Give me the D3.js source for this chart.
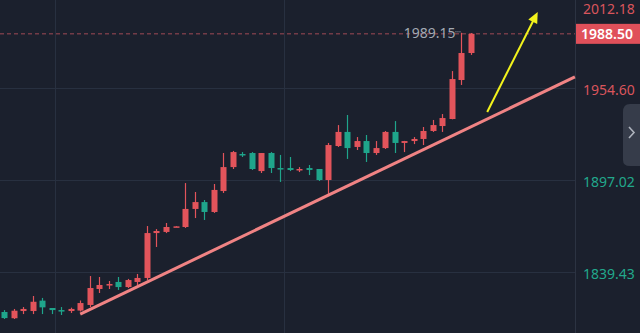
<!DOCTYPE html>
<html lang="en">
<head>
<meta charset="UTF-8">
<title>Gold candles</title>
<script src="https://d3js.org/d3.v7.min.js"></script>
<style>
  body { margin: 0; background: #1b202d; }
  svg { display: block; }
  text { font-family: "Noto Sans", sans-serif; }
</style>
</head>
<body>
<svg width="640" height="333"></svg>
<script>
// candle data (red = up, green = down)
const opens  = [1814.4,1810.5,1815.0,1815.0,1821.5,1816.9,1815.6,1815.0,1815.3,1818.8,
                1828.8,1831.3,1833.2,1830.0,1833.2,1835.7,1863.8,1864.5,1867.7,1867.6,
                1878.9,1883.2,1877.0,1890.1,1905.1,1913.3,1913.9,1902.6,1913.9,1904.5,
                1904.5,1903.3,1904.5,1903.9,1897.0,1918.3,1927.1,1917.7,1921.4,1913.9,
                1917.0,1927.1,1920.2,1921.4,1922.7,1927.7,1930.8,1935.2,1959.6,1976.5];
const closes = [1810.6,1815.2,1816.3,1820.8,1817.3,1815.6,1815.0,1816.3,1820.0,1829.4,
                1831.3,1831.9,1830.0,1834.4,1835.7,1863.8,1865.1,1867.6,1868.0,1878.9,
                1883.2,1877.0,1890.8,1905.1,1914.5,1912.7,1903.9,1913.9,1904.5,1903.9,
                1903.3,1903.9,1903.3,1897.0,1918.9,1927.1,1917.0,1921.4,1913.9,1917.0,
                1927.1,1920.2,1921.4,1922.7,1927.7,1931.4,1935.8,1960.2,1976.5,1988.5];
const highs  = [1815.6,1816.3,1817.5,1824.4,1823.2,1816.9,1817.5,1817.1,1821.6,1836.9,
                1836.3,1833.8,1836.3,1835.1,1838.2,1868.2,1866.3,1870.1,1868.1,1895.1,
                1889.5,1884.5,1894.5,1913.9,1915.2,1914.5,1914.5,1913.9,1914.5,1912.7,
                1911.4,1905.1,1906.4,1903.9,1920.2,1931.4,1937.7,1923.9,1925.2,1921.4,
                1927.7,1933.9,1921.5,1923.9,1930.2,1934.6,1938.3,1965.2,1989.15,1989.0];
const lows   = [1810.0,1810.0,1813.1,1813.1,1813.1,1813.1,1812.5,1813.8,1814.7,1817.5,
                1826.3,1828.8,1828.2,1829.4,1831.3,1834.4,1855.1,1863.8,1867.6,1867.0,
                1873.2,1872.0,1876.4,1888.9,1903.9,1911.4,1903.3,1901.4,1901.4,1895.8,
                1902.6,1902.0,1900.1,1896.4,1888.3,1917.7,1910.2,1915.8,1908.3,1912.7,
                1916.4,1913.9,1914.5,1919.5,1918.9,1927.1,1927.1,1935.0,1956.5,1975.3];

const priceTicks = [1839.43, 1897.02, 1954.60, 2012.18];
const lastPrice = 1988.50;
const highLabel = 1989.15;
const refPrice = 1925;          // labels above are red, below green

// drawn lines: [candle index, price]
const trendLine = [[8, 1813.1], [59.9, 1961.5]];
const arrowLine = [[50.7, 1939.6], [56.0, 2002.2]];

const W = 640, H = 333, plotRight = 575;
const RED = "#e2545b", GREEN = "#1fa58b";

const svg = d3.select("svg");

const x = d3.scaleLinear().domain([0, 49]).range([4, 471]);
const y = d3.scaleLinear().domain([1839.43, 1954.60]).range([272, 88]);

// grid
const grid = svg.append("g").attr("stroke", "#283040").attr("stroke-width", 1);
grid.selectAll("line.h").data(priceTicks).join("line")
    .attr("x1", 0).attr("x2", plotRight)
    .attr("y1", d => Math.round(y(d)) + 0.5).attr("y2", d => Math.round(y(d)) + 0.5);
grid.selectAll("line.v").data([6, 30]).join("line")
    .attr("x1", d => Math.round(x(d - 0.6)) + 0.5).attr("x2", d => Math.round(x(d - 0.6)) + 0.5)
    .attr("y1", 0).attr("y2", H);
svg.append("line").attr("x1", plotRight + 0.5).attr("x2", plotRight + 0.5)
    .attr("y1", 0).attr("y2", H).attr("stroke", "#2c3342");

// last price dashed line
svg.append("line")
    .attr("x1", 0).attr("x2", plotRight)
    .attr("y1", y(lastPrice)).attr("y2", y(lastPrice))
    .attr("stroke", "#a04a55").attr("stroke-dasharray", "4,3");

// candles
const idx = d3.range(opens.length);
const c = svg.append("g").selectAll("g").data(idx).join("g")
    .attr("fill", i => closes[i] >= opens[i] ? RED : GREEN)
    .attr("stroke", i => closes[i] >= opens[i] ? RED : GREEN);
c.append("line")
    .attr("x1", i => Math.round(x(i)) + 0.5).attr("x2", i => Math.round(x(i)) + 0.5)
    .attr("y1", i => y(highs[i])).attr("y2", i => y(lows[i]))
    .attr("stroke-width", 1.2);
c.append("rect")
    .attr("x", i => Math.round(x(i)) - 2.5)
    .attr("width", 6)
    .attr("y", i => y(Math.max(opens[i], closes[i])))
    .attr("height", i => Math.max(1.5, Math.abs(y(opens[i]) - y(closes[i]))))
    .attr("stroke", "none");

// high label
const hiIdx = highs.indexOf(highLabel);
svg.append("text")
    .attr("x", x(hiIdx) - 6).attr("y", y(highLabel) + 5)
    .attr("text-anchor", "end").attr("font-size", 14)
    .attr("fill", "#a3a9b3").text(highLabel.toFixed(2));
svg.append("line")
    .attr("x1", x(hiIdx) - 6).attr("x2", x(hiIdx))
    .attr("y1", y(highLabel) - 1).attr("y2", y(highLabel) - 1)
    .attr("stroke", "#a3a9b3").attr("stroke-dasharray", "1,1");

// trend line
svg.append("line")
    .attr("x1", x(trendLine[0][0])).attr("y1", y(trendLine[0][1]))
    .attr("x2", x(trendLine[1][0])).attr("y2", y(trendLine[1][1]))
    .attr("stroke", "#f08384").attr("stroke-width", 3);

// yellow arrow
const ax1 = x(arrowLine[0][0]), ay1 = y(arrowLine[0][1]);
const ax2 = x(arrowLine[1][0]), ay2 = y(arrowLine[1][1]);
const ang = Math.atan2(ay2 - ay1, ax2 - ax1);
const hl = 11, hw = 5;
svg.append("line")
    .attr("x1", ax1).attr("y1", ay1)
    .attr("x2", ax2 - Math.cos(ang) * hl * 0.8).attr("y2", ay2 - Math.sin(ang) * hl * 0.8)
    .attr("stroke", "#f2f21c").attr("stroke-width", 2);
const bx = ax2 - Math.cos(ang) * hl, by = ay2 - Math.sin(ang) * hl;
svg.append("path")
    .attr("d", `M${ax2},${ay2}L${bx - Math.sin(ang) * hw},${by + Math.cos(ang) * hw}L${bx + Math.sin(ang) * hw},${by - Math.cos(ang) * hw}Z`)
    .attr("fill", "#f2f21c");

// right price axis
const axis = svg.append("g").attr("transform", `translate(${plotRight},0)`)
    .call(d3.axisRight(y).tickValues(priceTicks).tickFormat(d3.format(".2f")).tickSize(0).tickPadding(8));
axis.select(".domain").remove();
axis.selectAll(".tick").attr("transform", d => `translate(0,${Math.max(y(d) + 3, 10)})`);
axis.selectAll("text")
    .attr("font-family", "'Noto Sans', sans-serif").attr("font-size", 14)
    .attr("fill", d => d > refPrice ? "#d9555c" : "#22a88c");

// last price box
svg.append("rect").attr("x", plotRight + 1).attr("y", y(lastPrice) - 10)
    .attr("width", W - plotRight - 1).attr("height", 20).attr("fill", "#e0505a");
svg.append("text").attr("x", plotRight + 6).attr("y", y(lastPrice) + 5.5)
    .attr("font-size", 14).attr("font-weight", 600).attr("fill", "#ffffff")
    .text(lastPrice.toFixed(2));

// side tab
svg.append("path")
    .attr("d", "M640,104 L630,104 Q623,104 623,112 L623,160 Q623,166 630,166 L640,166 Z")
    .attr("fill", "#363c4a");
svg.append("path")
    .attr("d", "M629,127 L634,132.5 L629,138")
    .attr("fill", "none").attr("stroke", "#aeb3bd").attr("stroke-width", 1.6);
</script>
</body>
</html>
